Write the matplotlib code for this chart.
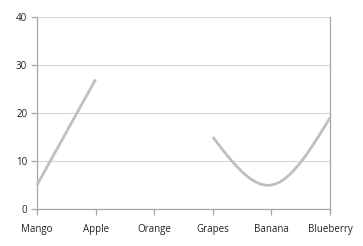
import numpy as np
import matplotlib
matplotlib.use("Agg")
import matplotlib.pyplot as plt

categories = ["Mango", "Apple", "Orange", "Grapes", "Banana", "Blueberry"]
values = [5, 27, None, 15, 5, 19]
y_ticks = [0, 10, 20, 30, 40]


def natural_spline(xs, ys, n=60):
    xs = np.asarray(xs, float)
    ys = np.asarray(ys, float)
    k = len(xs)
    if k < 3:
        xx = np.linspace(xs[0], xs[-1], n)
        return xx, np.interp(xx, xs, ys)
    h = np.diff(xs)
    A = np.zeros((k, k))
    b = np.zeros(k)
    A[0, 0] = 1
    A[-1, -1] = 1
    for i in range(1, k - 1):
        A[i, i - 1] = h[i - 1]
        A[i, i] = 2 * (h[i - 1] + h[i])
        A[i, i + 1] = h[i]
        b[i] = 6 * ((ys[i + 1] - ys[i]) / h[i] - (ys[i] - ys[i - 1]) / h[i - 1])
    M = np.linalg.solve(A, b)
    xx_all, yy_all = [], []
    for i in range(k - 1):
        t = np.linspace(xs[i], xs[i + 1], n)
        a = xs[i + 1] - t
        c = t - xs[i]
        yy = (M[i] * a ** 3 + M[i + 1] * c ** 3) / (6 * h[i]) \
            + (ys[i] / h[i] - M[i] * h[i] / 6) * a \
            + (ys[i + 1] / h[i] - M[i + 1] * h[i] / 6) * c
        xx_all.append(t)
        yy_all.append(yy)
    return np.concatenate(xx_all), np.concatenate(yy_all)


fig = plt.figure(figsize=(3.63, 2.46), dpi=100)
ax = fig.add_axes([37 / 363, 1 - 209 / 246, (330 - 37) / 363, (209 - 17) / 246])

# split into segments at missing values
segs = []
cur = []
for i, v in enumerate(values):
    if v is None:
        if cur:
            segs.append(cur)
        cur = []
    else:
        cur.append((i, v))
if cur:
    segs.append(cur)

for seg in segs:
    xs = [p[0] for p in seg]
    ys = [p[1] for p in seg]
    xx, yy = natural_spline(xs, ys)
    ax.plot(xx, yy, color="#bfbfbf", lw=2, solid_capstyle="butt", clip_on=False, zorder=3)

ax.set_xlim(0, len(categories) - 1)
ax.set_ylim(0, 40)
ax.set_xticks(range(len(categories)))
ax.set_xticklabels(categories)
ax.set_yticks(y_ticks)
ax.grid(axis="y", color="#d6d6d6", lw=0.8)
ax.set_axisbelow(True)
for s in ["left", "bottom", "right"]:
    ax.spines[s].set_color("#a6a6a6")
    ax.spines[s].set_linewidth(0.9)
ax.spines["top"].set_visible(False)
ax.tick_params(axis="both", colors="#a6a6a6", labelcolor="#222222", labelsize=7,
               length=4, width=0.9)
ax.tick_params(axis="x", pad=7)
ax.tick_params(axis="y", pad=3)
for lab in ax.get_xticklabels() + ax.get_yticklabels():
    lab.set_fontfamily("Open Sans")

fig.savefig("out.png", dpi=100)
